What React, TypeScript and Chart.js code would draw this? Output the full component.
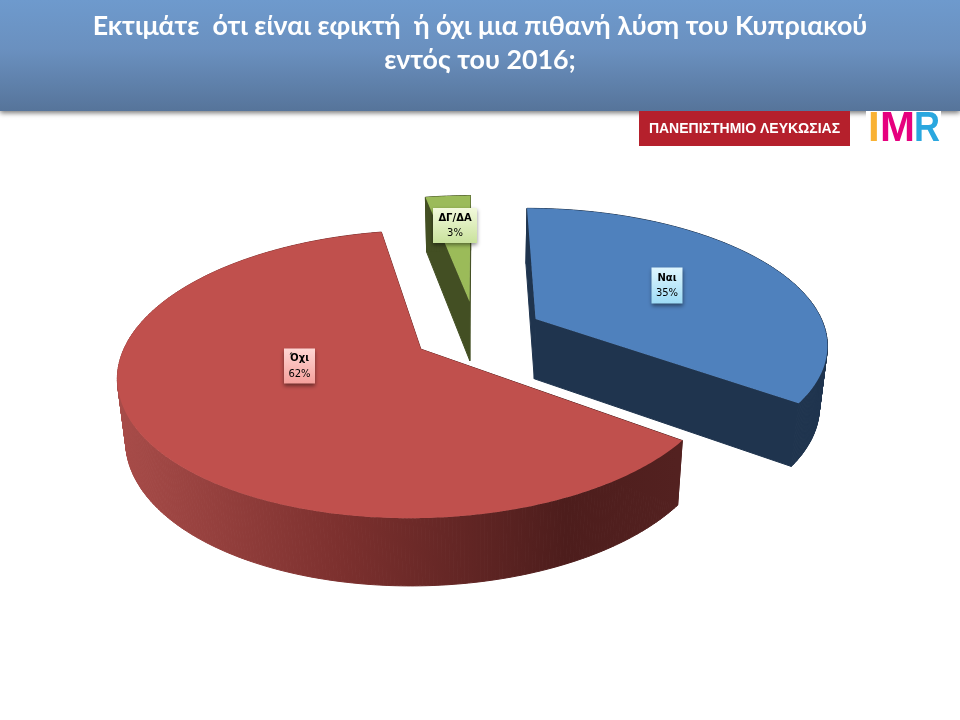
import React, { useEffect, useRef } from "react";
import { Chart, registerables } from "chart.js";

Chart.register(...registerables);

const categories = ["Ναι", "Όχι", "ΔΓ/ΔΑ"];
const shares = [35, 62, 3];
const titleLines = [
  "Εκτιμάτε  ότι είναι εφικτή  ή όχι μια πιθανή λύση του Κυπριακού",
  "εντός του 2016;",
];
const universityName = "ΠΑΝΕΠΙΣΤΗΜΙΟ ΛΕΥΚΩΣΙΑΣ";
const sliceColors = ["#4f81bd", "#c0504d", "#9bbb59"];

// Style and layout of the tilted 3D rendering (not data)
const explodeOffsets = [67, 63, 70];
const wallColors = ["#1f344e", null, "#434f23"];
const labelBoxes = [
  { cx: 667, cy: 285.5, w: 31, h: 36, top: "#dff6fe", bottom: "#9edcf6" },
  { cx: 299.5, cy: 366, w: 31, h: 35, top: "#ffd6d4", bottom: "#f5a09c" },
  { cx: 455, cy: 225.5, w: 44, h: 35, top: "#f2f9dc", bottom: "#c9e29c" },
];
const tilt = { ox: 476, oy: 333, a: 291, b: 134, k: 0.171 };
const extrude = { cx: 480, shrink: 0.977, base: 55, slope: 0.04 };

type P = [number, number];
const project = (u: number, v: number): P => {
  const w = 1 - tilt.k * v;
  return [tilt.ox + (tilt.a * u) / w, tilt.oy + (tilt.b * v) / w];
};
const drop = ([x, y]: P): P => [
  extrude.cx + (x - extrude.cx) * extrude.shrink,
  y + extrude.base + (y - 200) * extrude.slope,
];
const trace = (ctx: CanvasRenderingContext2D, pts: P[]) => {
  ctx.beginPath();
  pts.forEach(([x, y], i) => (i ? ctx.lineTo(x, y) : ctx.moveTo(x, y)));
  ctx.closePath();
};

const pie3d = {
  id: "pie3d",
  beforeDraw(chart: any) {
    const { ctx, width } = chart;
    ctx.save();
    ctx.shadowColor = "rgba(60,60,60,0.7)";
    ctx.shadowBlur = 5;
    ctx.shadowOffsetY = 2;
    const g = ctx.createLinearGradient(0, 0, 0, 111);
    g.addColorStop(0, "#6e9acd");
    g.addColorStop(0.45, "#6a90bf");
    g.addColorStop(1, "#56749a");
    ctx.fillStyle = g;
    ctx.fillRect(0, 0, width, 111);
    ctx.restore();
  },
  beforeDatasetsDraw(chart: any) {
    const { ctx } = chart;
    const arcs = chart.getDatasetMeta(0).data;
    const order = [2, 0, 1];
    ctx.save();
    order.forEach((i) => {
      const arc = arcs[i];
      const R = arc.outerRadius;
      const mid = (arc.startAngle + arc.endAngle) / 2;
      const e = arc.options.offset / R;
      const c0 = e * Math.cos(mid);
      const c1 = e * Math.sin(mid);
      const outline: P[] = [project(c0, c1)];
      const n = Math.ceil((arc.endAngle - arc.startAngle) * 90);
      for (let s = 0; s <= n; s++) {
        const t = arc.startAngle + ((arc.endAngle - arc.startAngle) * s) / n;
        outline.push(project(c0 + Math.cos(t), c1 + Math.sin(t)));
      }
      let wall: any = wallColors[i];
      if (!wall) {
        wall = ctx.createLinearGradient(118, 0, 677, 0);
        wall.addColorStop(0, "#a84c49");
        wall.addColorStop(0.4, "#7c302e");
        wall.addColorStop(0.8, "#4d1d1c");
        wall.addColorStop(1, "#532120");
      }
      ctx.fillStyle = wall;
      ctx.strokeStyle = wall;
      ctx.lineWidth = 1;
      outline.forEach((p, j) => {
        const q = outline[(j + 1) % outline.length];
        trace(ctx, [p, q, drop(q), drop(p)]);
        ctx.fill();
        ctx.stroke();
      });
      ctx.fillStyle = arc.options.backgroundColor;
      trace(ctx, outline);
      ctx.fill();
    });
    ctx.restore();
    return false;
  },
  afterDraw(chart: any) {
    const { ctx } = chart;
    ctx.save();
    // logos
    ctx.fillStyle = "#b5202c";
    ctx.fillRect(639, 111, 211, 35);
    ctx.fillStyle = "#ffffff";
    ctx.fillRect(866, 111, 75, 35);
    ctx.textAlign = "center";
    ctx.textBaseline = "middle";
    ctx.fillStyle = "#ffffff";
    ctx.font = 'bold 14px "Liberation Sans"';
    ctx.fillText(universityName, 744.5, 129);
    ctx.font = 'bold 42px "Liberation Sans"';
    ctx.textAlign = "left";
    ctx.fillStyle = "#f9b233";
    ctx.fillText("I", 868, 129.5);
    ctx.fillStyle = "#2aa7df";
    ctx.fillText("R", 914, 129.5, 26);
    ctx.fillStyle = "#e6007e";
    ctx.fillText("M", 880, 129.5);
    // data labels
    const meta = chart.getDatasetMeta(0);
    meta.data.forEach((_: any, i: number) => {
      const b = labelBoxes[i];
      const x = b.cx - b.w / 2;
      const y = b.cy - b.h / 2;
      ctx.save();
      ctx.shadowColor = "rgba(0,0,0,0.45)";
      ctx.shadowBlur = 4;
      ctx.shadowOffsetY = 2;
      const g = ctx.createLinearGradient(0, y, 0, y + b.h);
      g.addColorStop(0, b.top);
      g.addColorStop(1, b.bottom);
      ctx.fillStyle = g;
      ctx.fillRect(x, y, b.w, b.h);
      ctx.restore();
      ctx.fillStyle = "#000000";
      ctx.textAlign = "center";
      ctx.font = 'bold 10px "DejaVu Sans"';
      ctx.fillText(categories[i], b.cx, b.cy - 7.5);
      ctx.font = '10px "DejaVu Sans"';
      ctx.fillText(shares[i] + "%", b.cx, b.cy + 8);
    });
    ctx.restore();
  },
};

export default function App() {
  const ref = useRef<HTMLCanvasElement>(null);
  useEffect(() => {
    document.body.style.margin = "0";
    document.body.style.background = "#ffffff";
    const chart = new Chart(ref.current!, {
      type: "pie",
      data: {
        labels: categories,
        datasets: [{ data: shares, backgroundColor: sliceColors, borderWidth: 0, offset: explodeOffsets }],
      },
      options: {
        animation: false,
        responsive: false,
        devicePixelRatio: 1,
        rotation: 0,
        layout: { padding: 0 },
        plugins: {
          legend: { display: false },
          tooltip: { enabled: false },
          title: {
            display: true,
            text: titleLines,
            color: "#ffffff",
            align: "center",
            padding: { top: 9, bottom: 0 },
            font: { family: "Lato", size: 26.8, weight: "bold", lineHeight: 1.27 },
          },
        },
      },
      plugins: [pie3d],
    } as any);
    return () => chart.destroy();
  }, []);
  return <canvas ref={ref} width={960} height={720} style={{ display: "block" }} />;
}
